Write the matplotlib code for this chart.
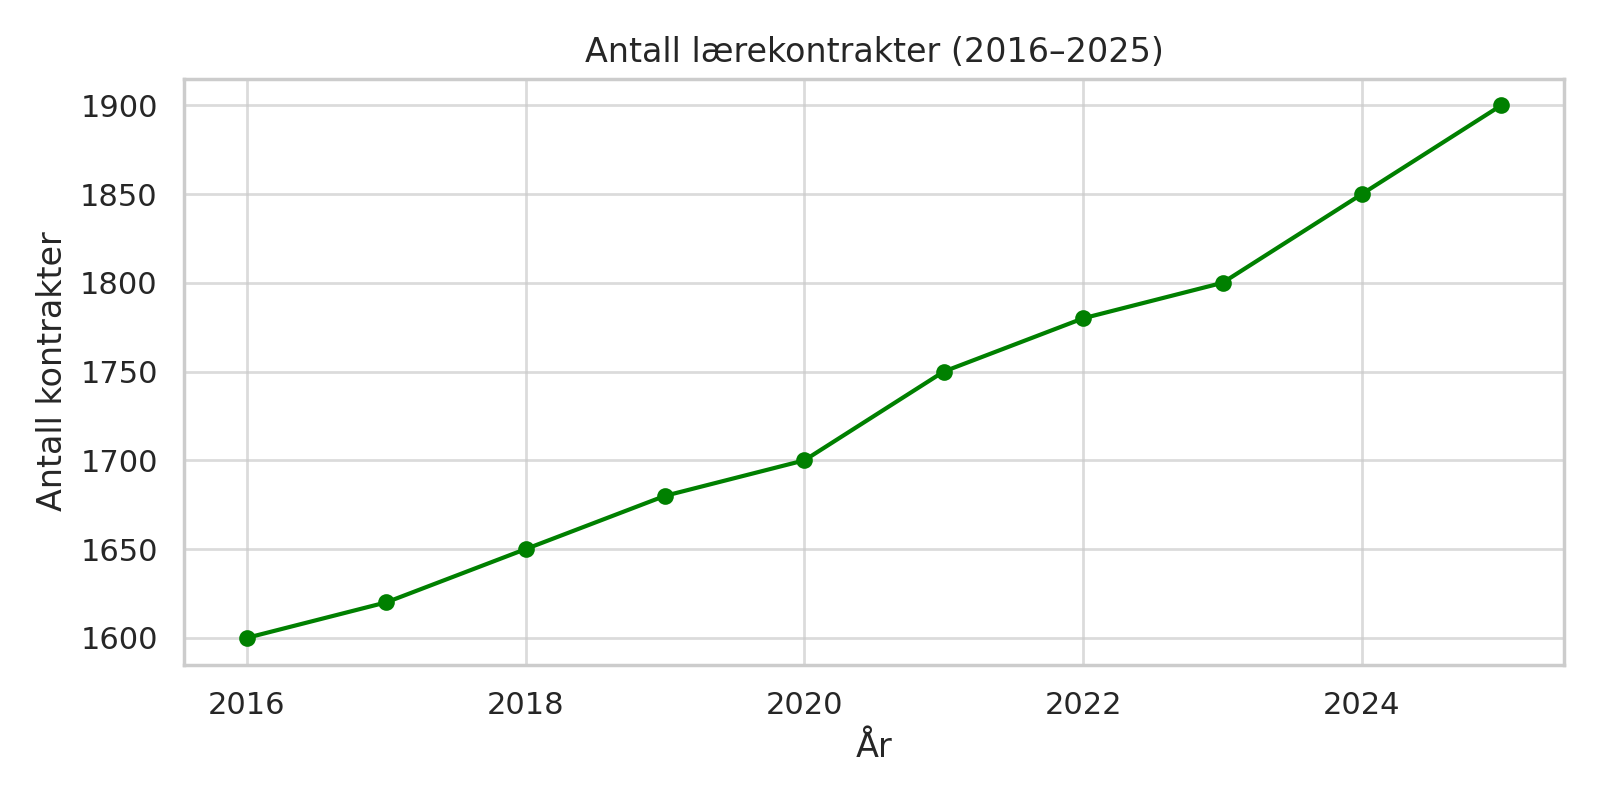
import matplotlib
matplotlib.use("Agg")
import matplotlib.pyplot as plt
import seaborn as sns

years = [2016, 2017, 2018, 2019, 2020, 2021, 2022, 2023, 2024, 2025]
contracts = [1600, 1620, 1650, 1680, 1700, 1750, 1780, 1800, 1850, 1900]

sns.set_theme(style="whitegrid")
fig, ax = plt.subplots(figsize=(8, 4), dpi=200)
ax.plot(years, contracts, marker="o", color="green", markersize=5)
ax.grid(True, alpha=0.7)
ax.set_title("Antall lærekontrakter (2016–2025)")
ax.set_xlabel("År")
ax.set_ylabel("Antall kontrakter")
fig.tight_layout()
fig.savefig("out.png")
